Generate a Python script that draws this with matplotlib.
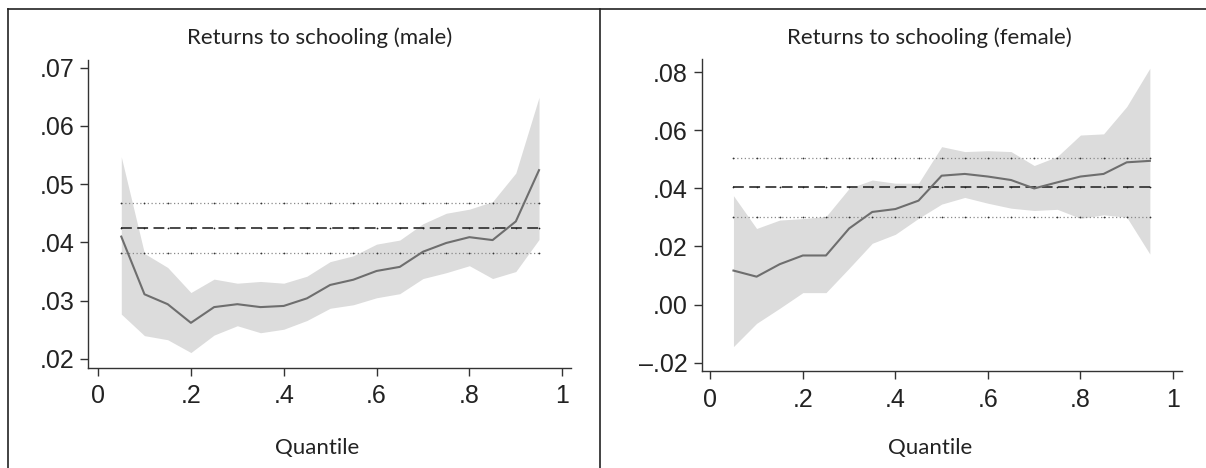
import matplotlib.pyplot as plt
from matplotlib.lines import Line2D

# quantiles
quantile = [0.05, 0.10, 0.15, 0.20, 0.25, 0.30, 0.35, 0.40, 0.45, 0.50,
            0.55, 0.60, 0.65, 0.70, 0.75, 0.80, 0.85, 0.90, 0.95]

# male: quantile regression estimates + confidence band
male_coef = [0.0410, 0.0311, 0.0294, 0.0262, 0.0289, 0.0294, 0.0289, 0.0291, 0.0304, 0.0327,
             0.0336, 0.0351, 0.0358, 0.0384, 0.0399, 0.0409, 0.0404, 0.0436, 0.0524]
male_upper = [0.0547, 0.0381, 0.0357, 0.0314, 0.0337, 0.0330, 0.0333, 0.0330, 0.0342, 0.0367,
              0.0377, 0.0397, 0.0404, 0.0432, 0.0450, 0.0457, 0.0470, 0.0519, 0.0649]
male_lower = [0.0277, 0.0240, 0.0233, 0.0211, 0.0241, 0.0257, 0.0245, 0.0251, 0.0266, 0.0287,
              0.0293, 0.0305, 0.0312, 0.0338, 0.0348, 0.0360, 0.0338, 0.0350, 0.0405]
male_ols = 0.0425
male_ols_hi = 0.0468
male_ols_lo = 0.0382

# female
female_coef = [0.0117, 0.0096, 0.0139, 0.0169, 0.0169, 0.0262, 0.0319, 0.0329, 0.0358, 0.0444,
               0.0450, 0.0441, 0.0429, 0.0400, 0.0421, 0.0441, 0.0450, 0.0490, 0.0495]
female_upper = [0.0375, 0.0262, 0.0291, 0.0296, 0.0303, 0.0400, 0.0429, 0.0418, 0.0418, 0.0544,
                0.0527, 0.0530, 0.0527, 0.0479, 0.0510, 0.0584, 0.0588, 0.0682, 0.0814]
female_lower = [-0.0145, -0.0065, -0.0013, 0.0041, 0.0041, 0.0125, 0.0211, 0.0242, 0.0297, 0.0346,
                0.0369, 0.0349, 0.0332, 0.0324, 0.0328, 0.0297, 0.0309, 0.0301, 0.0174]
female_ols = 0.0404
female_ols_hi = 0.0506
female_ols_lo = 0.0303

x_ticks = [0, 0.2, 0.4, 0.6, 0.8, 1.0]
x_ticklabels = ["0", ".2", ".4", ".6", ".8", "1"]
male_yticks = [0.02, 0.03, 0.04, 0.05, 0.06, 0.07]
male_yticklabels = [".02", ".03", ".04", ".05", ".06", ".07"]
female_yticks = [-0.02, 0.00, 0.02, 0.04, 0.06, 0.08]
female_yticklabels = ["\u2013.02", ".00", ".02", ".04", ".06", ".08"]

TICK_FONT = "Liberation Sans"
LABEL_FONT = "Lato"
TICK_SIZE = 18
LABEL_SIZE = 16


def draw_panel(ax, coef, lo, hi, ols, ols_lo, ols_hi):
    ax.fill_between(quantile, lo, hi, color="#dcdcdc", linewidth=0, zorder=1)
    n = len(quantile)
    ax.plot(quantile, [ols_hi] * n, color="#8a8a8a", linestyle=(0, (1, 2)), linewidth=0.9,
            marker=".", markersize=2.5, markeredgewidth=0, markerfacecolor="#333333", zorder=2)
    ax.plot(quantile, [ols_lo] * n, color="#8a8a8a", linestyle=(0, (1, 2)), linewidth=0.9,
            marker=".", markersize=2.5, markeredgewidth=0, markerfacecolor="#333333", zorder=2)
    ax.plot(quantile, [ols] * n, color="#3a3a3a", linestyle=(0, (6, 3)), linewidth=1.3,
            marker=".", markersize=2.5, markeredgewidth=0, markerfacecolor="#222222", zorder=2)
    ax.plot(quantile, coef, color="#6e6e6e", linewidth=1.5, zorder=3)
    for s in ["top", "right"]:
        ax.spines[s].set_visible(False)
    for s in ["left", "bottom"]:
        ax.spines[s].set_color("#333333")
        ax.spines[s].set_linewidth(1.0)
    ax.tick_params(axis="both", colors="#333333", length=6, width=1.0, labelcolor="#222222")
    ax.tick_params(axis="x", pad=6)
    ax.tick_params(axis="y", pad=4)
    ax.set_xticks(x_ticks)
    ax.set_xticklabels(x_ticklabels, fontsize=TICK_SIZE, family=TICK_FONT)


fig = plt.figure(figsize=(12.06, 4.68), dpi=100)

ax1 = fig.add_axes([0.073, 0.2143, 0.4005, 0.6575])
draw_panel(ax1, male_coef, male_lower, male_upper, male_ols, male_ols_lo, male_ols_hi)
ax1.set_xlim(-0.0216, 1.019)
ax1.set_ylim(0.0185, 0.0713)
ax1.set_yticks(male_yticks)
ax1.set_yticklabels(male_yticklabels, fontsize=TICK_SIZE, family=TICK_FONT)

ax2 = fig.add_axes([0.5817, 0.2073, 0.3984, 0.666])
draw_panel(ax2, female_coef, female_lower, female_upper, female_ols, female_ols_lo, female_ols_hi)
ax2.set_xlim(-0.019, 1.0195)
ax2.set_ylim(-0.0229, 0.0845)
ax2.set_yticks(female_yticks)
ax2.set_yticklabels(female_yticklabels, fontsize=TICK_SIZE, family=TICK_FONT)

# titles and axis labels
fig.text(0.2653, 0.919, "Returns to schooling (male)", ha="center", va="center",
         fontsize=LABEL_SIZE, family=LABEL_FONT, color="#222222")
fig.text(0.771, 0.919, "Returns to schooling (female)", ha="center", va="center",
         fontsize=LABEL_SIZE, family=LABEL_FONT, color="#222222")
fig.text(0.2633, 0.0427, "Quantile", ha="center", va="center",
         fontsize=LABEL_SIZE, family=LABEL_FONT, color="#222222")
fig.text(0.771, 0.0427, "Quantile", ha="center", va="center",
         fontsize=LABEL_SIZE, family=LABEL_FONT, color="#222222")

# panel frame lines
top_y = 1 - 9 / 468
fig.add_artist(Line2D([8 / 1206, 1], [top_y, top_y], color="#222222", linewidth=1.2))
fig.add_artist(Line2D([8 / 1206, 8 / 1206], [0, top_y], color="#222222", linewidth=1.2))
fig.add_artist(Line2D([600 / 1206, 600 / 1206], [0, top_y], color="#222222", linewidth=1.2))

plt.savefig("out.png", dpi=100)
